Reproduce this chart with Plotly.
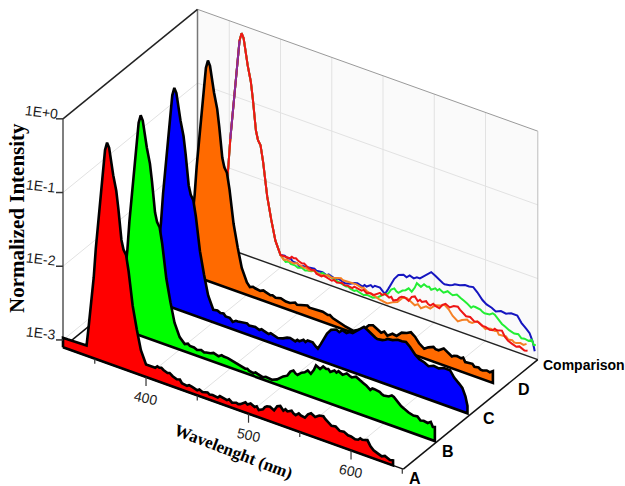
import plotly.graph_objects as go

# ---------- data ----------
peak_nm = [319, 324, 335, 342, 344, 349, 351, 355, 358, 360, 362, 364, 368, 371, 373, 376, 378, 380.5, 383, 387, 391, 395, 400]
peak_log = [-2.97, -2.97, -2.97, -2.96, -2.70, -2.0, -1.6, -0.95, -0.5, -0.22, -0.11, -0.17, -0.52, -0.72, -0.95, -1.36, -1.48, -1.54, -1.75, -2.2, -2.5, -2.76, -2.93]

red_nm = [404, 409, 411, 413, 415, 417, 421, 423, 426, 430, 433, 435, 440, 442, 445, 450, 452, 455, 460, 462, 465, 470, 472, 475, 479, 481, 484, 488, 490, 492, 497, 499, 502, 506, 508, 510, 514, 516, 518, 521, 523, 525, 528, 531, 534, 536, 538, 542, 544, 546, 549, 551, 555, 558, 561, 563, 565, 569, 573, 575, 577, 581, 585, 587, 589, 593, 597, 600, 604, 607, 609, 611, 616, 619, 622, 626, 630, 633, 635, 638, 641]
red_log = [-2.93, -2.93, -2.90, -2.91, -2.90, -2.92, -2.94, -2.93, -2.96, -2.98, -2.97, -3.01, -3.02, -3.0, -3.01, -3.03, -3.01, -3.03, -3.01, -3.03, -3.02, -3.03, -3.0, -3.01, -3.02, -3.0, -3.03, -3.01, -3.02, -3.01, -2.96, -2.98, -2.95, -2.98, -2.96, -3.0, -2.97, -2.93, -2.91, -2.90, -2.92, -2.93, -2.86, -2.84, -2.89, -2.86, -2.88, -2.85, -2.88, -2.89, -2.85, -2.87, -2.88, -2.82, -2.79, -2.81, -2.82, -2.78, -2.77, -2.80, -2.82, -2.86, -2.85, -2.87, -2.89, -2.88, -2.91, -2.91, -2.93, -2.92, -2.89, -2.90, -2.88, -2.95, -2.99, -3.01, -3.03, -3.01, -3.02, -3.04, -3.03]

green_nm = [405, 408, 410, 414, 417, 421, 424, 426, 430, 433, 436, 438, 441, 443, 447, 450, 452, 456, 459, 464, 466, 468, 472, 474, 476, 481, 484, 486, 490, 495, 499, 501, 505, 508, 511, 513, 515, 519, 522, 525, 528, 531, 533, 535, 537, 540, 543, 545, 547, 551, 553, 555, 559, 561, 563, 566, 568, 572, 574, 576, 579, 582, 586, 588, 590, 595, 597, 599, 604, 607, 609, 613, 616, 619, 623, 628, 632, 635, 638, 642, 645, 647, 649]
green_log = [-3.0, -2.98, -3.0, -3.0, -3.02, -3.0, -3.02, -3.01, -3.0, -2.98, -2.99, -3.0, -2.97, -2.98, -2.98, -2.99, -3.0, -3.01, -3.02, -3.04, -3.03, -3.05, -3.06, -3.04, -3.05, -3.07, -3.05, -3.05, -3.06, -3.03, -2.98, -2.96, -2.93, -2.86, -2.83, -2.86, -2.87, -2.82, -2.80, -2.76, -2.79, -2.72, -2.65, -2.67, -2.68, -2.63, -2.65, -2.64, -2.67, -2.63, -2.65, -2.62, -2.65, -2.63, -2.61, -2.63, -2.64, -2.61, -2.63, -2.64, -2.66, -2.68, -2.72, -2.69, -2.69, -2.70, -2.72, -2.73, -2.72, -2.69, -2.70, -2.76, -2.79, -2.81, -2.84, -2.86, -2.85, -2.89, -2.88, -2.89, -2.86, -2.92, -2.91]

blue_nm = [404, 407, 410, 412, 416, 419, 422, 424, 428, 433, 435, 437, 441, 445, 447, 449, 454, 456, 459, 463, 468, 470, 472, 475, 480, 482, 484, 488, 490, 492, 497, 500, 502, 505, 508, 511, 515, 518, 520, 523, 526, 530, 533, 536, 540, 544, 547, 551, 555, 558, 560, 565, 568, 570, 575, 580, 584, 588, 592, 597, 601, 606, 610, 615, 620, 625, 631, 635, 640, 643, 646, 648]
blue_log = [-2.92, -2.94, -2.93, -2.96, -2.96, -3.0, -2.97, -2.97, -2.96, -2.95, -2.97, -2.97, -2.96, -2.98, -2.96, -2.97, -2.99, -2.97, -2.98, -3.0, -2.98, -2.96, -2.95, -2.94, -2.96, -2.93, -2.94, -2.90, -2.92, -2.89, -2.89, -2.93, -2.95, -2.87, -2.78, -2.70, -2.63, -2.61, -2.60, -2.62, -2.58, -2.60, -2.57, -2.57, -2.52, -2.47, -2.43, -2.46, -2.50, -2.52, -2.53, -2.52, -2.50, -2.48, -2.47, -2.44, -2.44, -2.43, -2.48, -2.56, -2.60, -2.62, -2.65, -2.62, -2.63, -2.60, -2.60, -2.68, -2.74, -2.78, -2.88, -3.0]

orange_nm = [403, 406, 408, 413, 416, 418, 423, 425, 428, 433, 436, 438, 442, 447, 449, 452, 459, 461, 463, 468, 471, 474, 479, 481, 484, 491, 494, 496, 500, 504, 509, 514, 519, 523, 527, 531, 534, 537, 542, 546, 551, 556, 560, 564, 568, 573, 577, 582, 584, 587, 592, 596, 600, 602, 605, 609, 611, 613, 617, 620, 622, 626, 628, 630, 634, 637, 640]
orange_log = [-2.98, -2.96, -2.97, -2.98, -2.96, -2.97, -2.99, -2.98, -3.0, -2.98, -3.0, -3.0, -3.0, -2.97, -2.99, -2.98, -2.95, -2.97, -2.97, -2.96, -2.97, -2.96, -2.98, -2.97, -3.0, -3.02, -3.04, -3.05, -3.06, -3.07, -3.03, -3.0, -2.92, -2.90, -2.93, -2.96, -2.93, -2.97, -2.92, -2.93, -2.86, -2.84, -2.81, -2.85, -2.92, -2.97, -2.93, -2.90, -2.92, -2.92, -2.87, -2.90, -2.94, -2.92, -2.91, -2.92, -2.90, -2.95, -2.95, -2.94, -2.97, -2.96, -2.98, -2.98, -2.96, -2.97, -2.94]

purple_nm = [351, 355, 358, 360]
purple_log = [-1.6, -0.95, -0.5, -0.22]

y_tick_log = [0, -1, -2, -3]
y_tick_labels = ["1E+0", "1E-1", "1E-2", "1E-3"]
x_major = [400, 500, 600]
x_minor = [350, 450, 550, 650]
x_grid = [350, 400, 450, 500, 550, 600]
depth_labels = ["A", "B", "C", "D", "Comparison"]
depths = [0.0, 0.25, 0.5, 0.75, 1.0]
label_depths = [0.0, 0.245, 0.55, 0.81]

# ---------- oblique projection (used as the plot's scale) ----------
NM0, NM1 = 319, 651
FLOOR = -3.1
X0, Y0 = 63, 347.3
KX, KY, DEC = 1.025, 0.367, 73.7
DX, DY = 134.5, -109.5

def px(nm, d=0.0):
    return X0 + (nm - NM0) * KX + d * DX

def py(nm, v, d=0.0):
    return Y0 + (nm - NM0) * KY - (v - FLOOR) * DEC + d * DY

fig = go.Figure()

def line(pts, color, width, dash=None):
    fig.add_trace(go.Scatter(
        x=[px(n, d) for n, v, d in pts], y=[py(n, v, d) for n, v, d in pts],
        mode="lines", line=dict(color=color, width=width, dash=dash),
        hoverinfo="skip", showlegend=False))

# back wall
fig.add_trace(go.Scatter(
    x=[px(NM0, 1), px(NM1, 1), px(NM1, 1), px(NM0, 1), px(NM0, 1)],
    y=[py(NM0, FLOOR, 1), py(NM1, FLOOR, 1), py(NM1, 0, 1), py(NM0, 0, 1), py(NM0, FLOOR, 1)],
    mode="lines", fill="toself", fillcolor="#fafafa", line=dict(width=0),
    hoverinfo="skip", showlegend=False))

GRID = "#e2e2e2"
for n in x_grid:
    line([(n, FLOOR, 0), (n, FLOOR, 1), (n, 0, 1)], GRID, 1)
for v in y_tick_log[1:3]:
    line([(NM0, v, 0), (NM0, v, 1), (NM1, v, 1)], GRID, 1)
line([(NM0, FLOOR + 0.1, 0), (NM0, FLOOR + 0.1, 1)], GRID, 1)

line([(NM0, 0, 1), (NM1, 0, 1)], "#9a9a9a", 1)
line([(NM1, 0, 1), (NM1, FLOOR, 1)], "#bdbdbd", 1)
line([(NM0, FLOOR, 1), (NM0, 0, 1)], "#777777", 1.5)
line([(NM0, 0, 0), (NM0, 0, 1)], "#222222", 1.5)
line([(NM0, FLOOR, 0), (NM0, FLOOR, 1)], "#111111", 1.5)
line([(NM0, FLOOR, 1), (NM1, FLOOR, 1)], "#222222", 1.5)
line([(NM0, FLOOR, 0), (NM0, 0, 0)], "#555555", 1.5)
line([(NM1, FLOOR, 0), (NM1, FLOOR, 1)], "#111111", 1.5)
line([(NM0, FLOOR, 0), (NM1, FLOOR, 0)], "#111111", 1.5)

spectra = {
    "blue": (peak_nm + blue_nm, peak_log + blue_log, "#0000ff", "#1515c0", 0.5),
    "green": (peak_nm + green_nm, peak_log + green_log, "#00ff00", "#22ee33", 0.25),
    "orange": (peak_nm + orange_nm, peak_log + orange_log, "#ff6a00", "#f58025", 0.75),
    "red": (peak_nm + red_nm, peak_log + red_log, "#ff0000", "#ee1515", 0.0),
}

# comparison overlay on the back wall
for key in ["blue", "green", "orange", "red"]:
    nm, lg, _, col, _ = spectra[key]
    start = nm.index(344)
    line([(n, v, 1.0) for n, v in zip(nm[start:], lg[start:])], col, 2)
line([(n, v, 1.0) for n, v in zip(purple_nm, purple_log)], "#8a2a9a", 2)

# filled spectra, back to front
for key in ["orange", "blue", "green", "red"]:
    nm, lg, col, _, d = spectra[key]
    xs = [px(n, d) for n in nm]
    ys = [py(n, v, d) for n, v in zip(nm, lg)]
    xs = [px(nm[0], d)] + xs + [px(nm[-1], d), px(nm[0], d)]
    ys = [py(nm[0], FLOOR, d)] + ys + [py(nm[-1], FLOOR, d), py(nm[0], FLOOR, d)]
    fig.add_trace(go.Scatter(x=xs, y=ys, mode="lines", fill="toself", fillcolor=col,
                             line=dict(color="#000000", width=2.6), hoverinfo="skip", showlegend=False))

# ticks
for v in y_tick_log:
    fig.add_trace(go.Scatter(x=[px(NM0) - 7, px(NM0)], y=[py(NM0, v), py(NM0, v)], mode="lines",
                             line=dict(color="#333333", width=1.5), hoverinfo="skip", showlegend=False))
for n in x_major:
    fig.add_trace(go.Scatter(x=[px(n), px(n)], y=[py(n, FLOOR), py(n, FLOOR) + 9], mode="lines",
                             line=dict(color="#333333", width=1.2), hoverinfo="skip", showlegend=False))
for n in x_minor:
    fig.add_trace(go.Scatter(x=[px(n), px(n)], y=[py(n, FLOOR), py(n, FLOOR) + 5], mode="lines",
                             line=dict(color="#333333", width=1.2), hoverinfo="skip", showlegend=False))

ann = []
def text(x, y, s, size, family, angle=0, bold=False, color="#1a1a1a"):
    ann.append(dict(x=x, y=y, xref="x", yref="y", text=f"<b>{s}</b>" if bold else s, showarrow=False,
                    font=dict(size=size, family=family, color=color), textangle=angle,
                    xanchor="center", yanchor="middle"))

SANS = "Liberation Sans"
SERIF = "Liberation Serif"
for v, s in zip(y_tick_log, y_tick_labels):
    text(px(NM0) - 22, py(NM0, v) - 7, s, 14, SANS, 7)
for n in x_major:
    text(px(n), py(n, FLOOR) + 21, str(n), 14, SANS, 12)
for lab, d in zip(depth_labels[:4], label_depths):
    text(px(NM1, d) + 12, py(NM1, FLOOR, d) + 9.5, lab, 16, SANS, 0, True, "#000000")
text(px(NM1, 1) + 46, py(NM1, FLOOR, 1) + 5, depth_labels[4], 14, SANS, 0, True, "#000000")
text(233, 451, "Wavelenght (nm)", 17, SERIF, 21, True, "#000000")
text(17, 218, "Normalized Intensity", 21, SERIF, -90, True, "#000000")

fig.update_layout(
    width=625, height=486, autosize=False, margin=dict(l=0, r=0, t=0, b=0),
    paper_bgcolor="white", plot_bgcolor="white", showlegend=False,
    xaxis=dict(range=[0, 625], visible=False, fixedrange=True),
    yaxis=dict(range=[486, 0], visible=False, fixedrange=True),
    annotations=ann)
fig.write_html("out.html", config={"displayModeBar": False},
               post_script="document.body.style.margin='0';document.documentElement.style.overflow='hidden';")
